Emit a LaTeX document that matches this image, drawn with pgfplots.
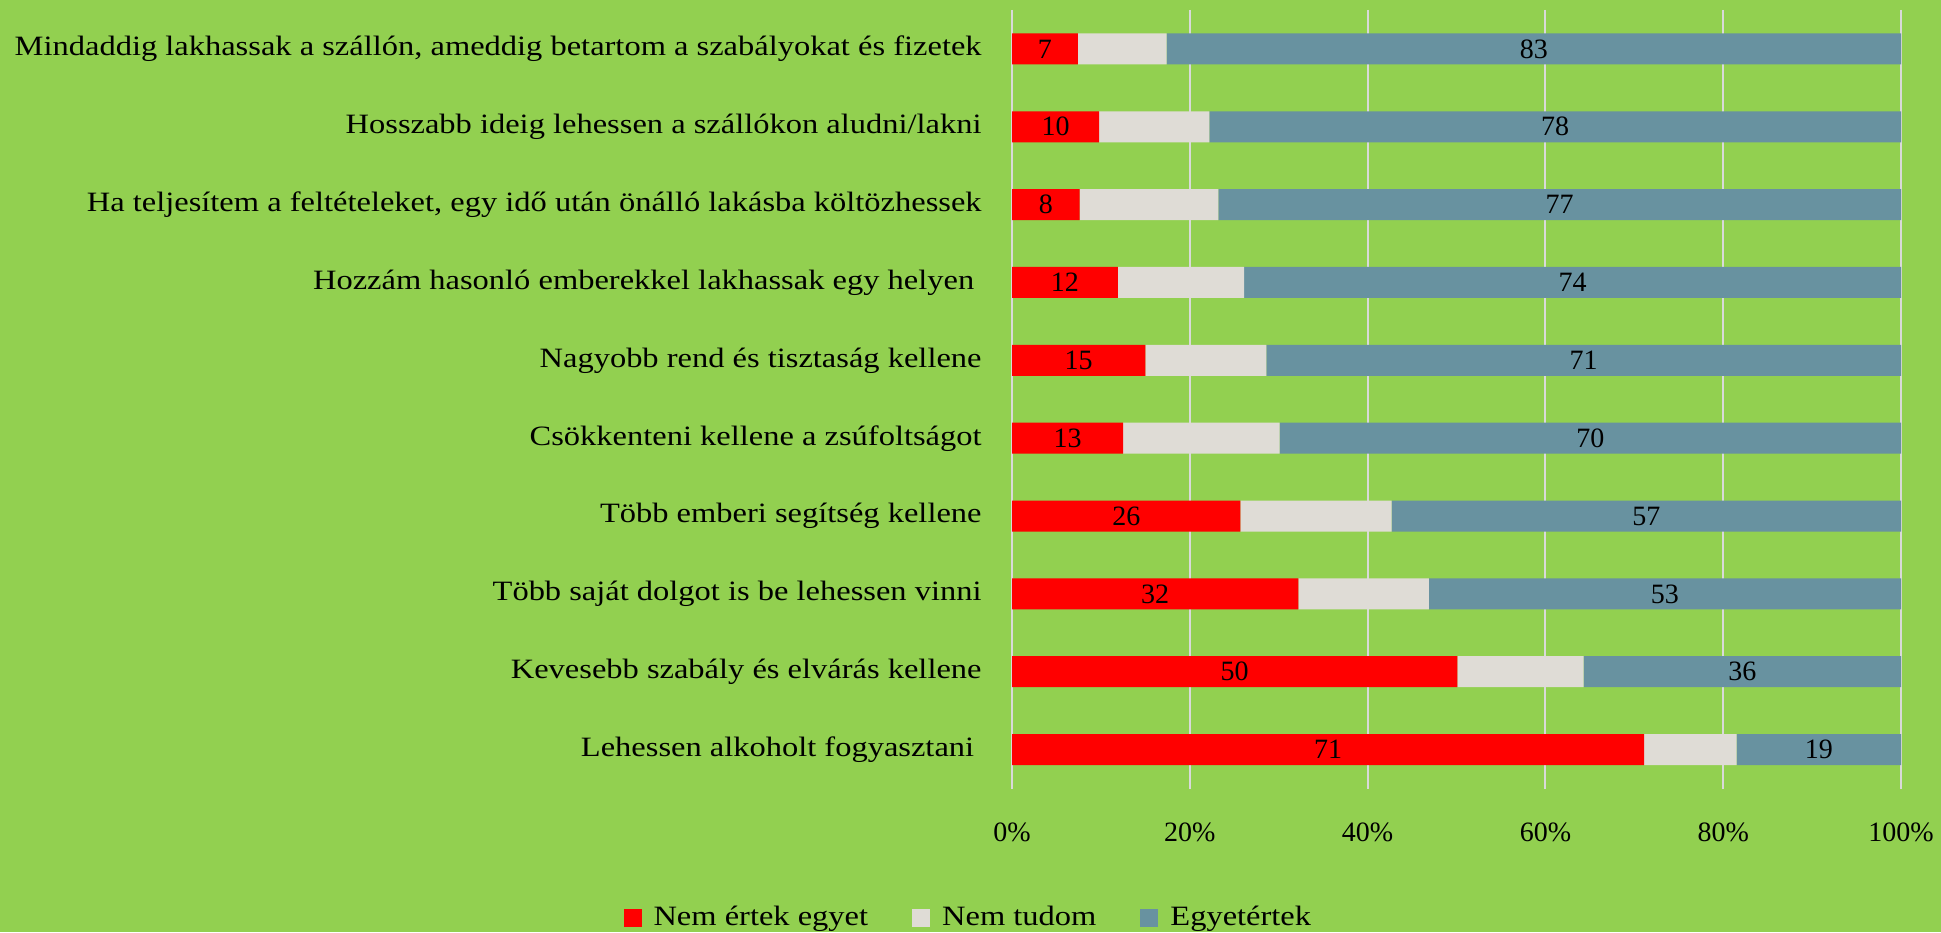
\documentclass[border=0pt]{standalone}
\usepackage{pgfplots}
\pgfplotsset{compat=1.18}
\usepackage{pgfplotstable}
\usepackage{fontspec}
\setmainfont{Liberation Serif}[FakeStretch=1.16]
\newfontfamily\numfont{Liberation Serif}
\definecolor{bg}{HTML}{92D050}
\definecolor{cred}{HTML}{FF0000}
\definecolor{cgray}{HTML}{DFDCD6}
\definecolor{cblue}{HTML}{6892A0}
\definecolor{cgrid}{HTML}{D9D9D9}
\newcommand\fs{\fontsize{14}{16}\selectfont}
\pgfplotstableread{
pos red gray blue rl bl rm bm
0 7.4 10.0 82.6 7 83 3.7 58.7
1 9.8 12.4 77.8 10 78 4.9 61.1
2 7.6 15.6 76.8 8 77 3.8 61.6
3 11.9 14.2 73.9 12 74 5.95 63.05
4 15.0 13.6 71.4 15 71 7.5 64.3
5 12.5 17.6 69.9 13 70 6.25 65.05
6 25.7 17.0 57.3 26 57 12.85 71.35
7 32.2 14.7 53.1 32 53 16.1 73.45
8 50.1 14.2 35.7 50 36 25.05 82.15
9 71.1 10.4 18.5 71 19 35.55 90.75
}\data
\pgfplotsset{sq/.style={legend image code/.code={\path[##1,draw=none] (0pt,-4.5pt) rectangle (9pt,4.5pt);\path (13pt,0pt);}}}
\begin{document}
\begin{tikzpicture}
\fill[bg] (0,0) rectangle (970.5pt,466pt);
\useasboundingbox (0,0) rectangle (970.5pt,466pt);
\begin{axis}[
  at={(506pt,71.75pt)}, anchor=south west,
  scale only axis, width=444.5pt, height=389.25pt,
  xbar stacked, bar width=15.5pt,
  xmin=0, xmax=100, ymin=-0.5, ymax=9.5, y dir=reverse,
  xtick={0,20,...,100}, xticklabels={0\%,20\%,40\%,60\%,80\%,100\%},
  ytick={0,...,9},
  yticklabels={{Mindaddig lakhassak a szállón, ameddig betartom a szabályokat és fizetek},
    {Hosszabb ideig lehessen a szállókon aludni/lakni},
    {Ha teljesítem a feltételeket, egy idő után önálló lakásba költözhessek},
    {Hozzám hasonló emberekkel lakhassak egy helyen\kern3.7pt},
    {Nagyobb rend és tisztaság kellene},
    {Csökkenteni kellene a zsúfoltságot},
    {Több emberi segítség kellene},
    {Több saját dolgot is be lehessen vinni},
    {Kevesebb szabály és elvárás kellene},
    {Lehessen alkoholt fogyasztani\kern3.7pt}},
  xmajorgrids, ymajorgrids=false, major grid style={cgrid, line width=1pt},
  axis line style={draw=none}, major tick length=0pt,
  tick label style={font=\fs},
  x tick label style={anchor=base, yshift=-26.5pt, font=\fs\numfont},
  y tick label style={anchor=east, inner sep=0pt, xshift=-15pt},
  legend style={at={(-0.048,-0.166)}, anchor=center, draw=none, fill=none, font=\fs,
    /tikz/every even column/.append style={column sep=20pt}},
  legend columns=3,
]
\addplot[fill=cred, draw=none, sq] table[x=red, y=pos] {\data};
\addplot[fill=cgray, draw=none, sq] table[x=gray, y=pos] {\data};
\addplot[fill=cblue, draw=none, sq] table[x=blue, y=pos] {\data};
\legend{Nem értek egyet, Nem tudom, Egyetértek}
\end{axis}
\begin{axis}[
  at={(506pt,71.75pt)}, anchor=south west,
  scale only axis, width=444.5pt, height=389.25pt,
  xmin=0, xmax=100, ymin=-0.5, ymax=9.5, y dir=reverse,
  hide axis, clip=false,
]
\addplot[only marks, mark=*, mark size=0pt, mark options={opacity=0}, nodes near coords,
  point meta=explicit symbolic,
  every node near coord/.append style={anchor=center, font=\fs\numfont, text=black, opacity=1}]
  table[x=rm, y=pos, meta=rl] {\data};
\addplot[only marks, mark=*, mark size=0pt, mark options={opacity=0}, nodes near coords,
  point meta=explicit symbolic,
  every node near coord/.append style={anchor=center, font=\fs\numfont, text=black, opacity=1}]
  table[x=bm, y=pos, meta=bl] {\data};
\end{axis}
\end{tikzpicture}
\end{document}
